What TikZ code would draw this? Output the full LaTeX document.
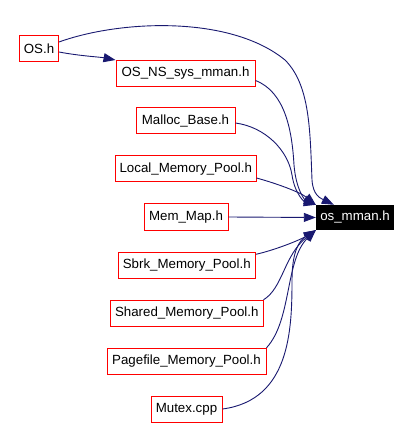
\documentclass[tikz,border=0pt]{standalone}
\usepackage{fontspec}
\setmainfont{Liberation Sans}
\usepackage{xcolor}
\usetikzlibrary{arrows.meta}
\definecolor{edgeblue}{HTML}{191970}

\begin{document}
\begin{tikzpicture}[x=1pt,y=-1pt,
        file/.style={draw=red,line width=1pt,inner sep=0pt,minimum height=26pt,font=\fontsize{13.3}{16}\selectfont},
        focus/.style={fill=black,text=white,inner sep=0pt,minimum height=25pt,font=\fontsize{13.3}{16}\selectfont},
        dep/.style={draw=edgeblue,line width=0.9pt,-{Triangle[length=12pt,width=9pt]}}]
        \useasboundingbox (0,0) rectangle (411,427);

        % Files
        \node[file,minimum width=39pt] (osh) at (39,49) {OS.h};
        \node[file,minimum width=139pt] (osns) at (185.5,73.5) {OS\_NS\_sys\_mman.h};
        \node[file,minimum width=99pt] (malloc) at (185.5,121) {Malloc\_Base.h};
        \node[file,minimum width=140.5pt] (local) at (185.75,169) {Local\_Memory\_Pool.h};
        \node[file,minimum width=84pt] (memmap) at (186,217) {Mem\_Map.h};
        \node[file,minimum width=137.5pt] (sbrk) at (186.75,265.3) {Sbrk\_Memory\_Pool.h};
        \node[file,minimum width=152.5pt] (shared) at (186.75,313.3) {Shared\_Memory\_Pool.h};
        \node[file,minimum width=159pt] (pagefile) at (186.5,361.3) {Pagefile\_Memory\_Pool.h};
        \node[file,minimum width=71pt] (mutex) at (186.5,409) {Mutex.cpp};
        \node[focus,minimum width=78pt] (mman) at (355,217.5) {os\_mman.h};

        % Includes
        \draw[dep] ([yshift=7pt]osh.east) .. controls (120,20) and (230,15) .. (285,60) .. controls (310,85) and (310,130) .. (312,180) .. controls (313,195) and (320,198) .. ([xshift=18pt]mman.north west);
        \draw[dep] ([yshift=-3pt]osh.east) .. controls (80,56) and (100,57) .. (osns.north west);
        \draw[dep] ([yshift=-7pt]osns.east) .. controls (285,92) and (292,130) .. (294,165) .. controls (296,190) and (305,200) .. (mman.north west);
        \draw[dep] ([yshift=-2pt]malloc.east) .. controls (265,127) and (288,150) .. (292,175) .. controls (295,195) and (305,202) .. (mman.north west);
        \draw[dep] ([yshift=-9pt]local.east) .. controls (275,183) and (300,192) .. (mman.north west);
        \draw[dep] (memmap.east) -- (mman.west);
        \draw[dep] ([yshift=11pt]sbrk.east) .. controls (275,250) and (300,240) .. (mman.south west);
        \draw[dep] (shared.north east) .. controls (283,288) and (284,255) .. (mman.south west);
        \draw[dep] (pagefile.north east) .. controls (292,320) and (285,260) .. (mman.south west);
        \draw[dep] (mutex.east) .. controls (290,400) and (292,330) .. (292,280) .. controls (292,250) and (300,240) .. (mman.south west);
\end{tikzpicture}
\end{document}
